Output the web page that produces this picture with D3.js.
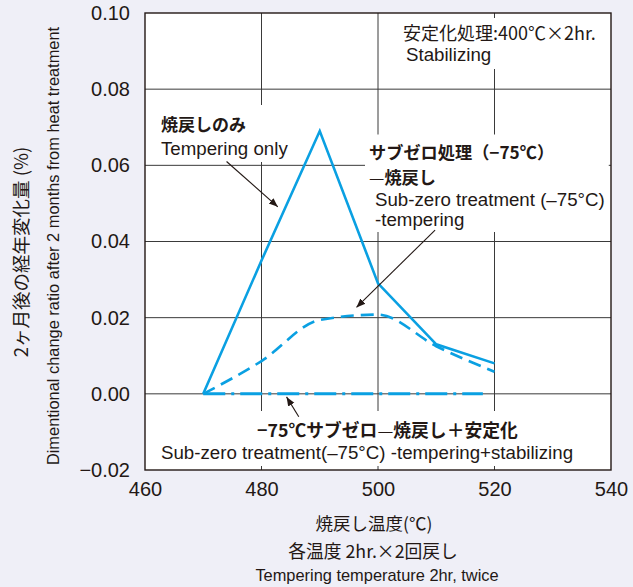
<!DOCTYPE html>
<html>
<head>
<meta charset="utf-8">
<script src="https://cdn.jsdelivr.net/npm/d3@7"></script>
<style>
  html, body { margin: 0; padding: 0; background: #efeff7; }
  svg { display: block; }
  text { font-family: "Liberation Sans", Arial, "Noto Sans CJK JP", sans-serif; fill: #231815; }
  .jp { font-family: "Noto Sans CJK JP", "Liberation Sans", sans-serif; }
</style>
</head>
<body>
<svg id="chart" width="633" height="587"></svg>
<script>
// Tempering temperatures (°C)
const temps = [470, 480, 490, 500, 510, 520];
// Dimensional change after 2 months (%)
const temperingOnly = [0.000, 0.035, 0.069, 0.029, 0.013, 0.008];
const subZeroTempering = [0.000, 0.0086, 0.0194, 0.0208, 0.0125, 0.0058];
const subZeroStabTemps = [470, 518];
const subZeroStabilized = [0.000, 0.000];

const xTicks = [460, 480, 500, 520, 540];
const yTicks = [-0.02, 0.00, 0.02, 0.04, 0.06, 0.08, 0.10];

const W = 633, H = 587;
const margin = { left: 145, right: 22, top: 13, bottom: 117 };

const svg = d3.select("#chart");
svg.append("rect").attr("width", W).attr("height", H).attr("fill", "#efeff7");

const x = d3.scaleLinear().domain([460, 540]).range([margin.left, W - margin.right]);
const y = d3.scaleLinear().domain([-0.02, 0.10]).range([H - margin.bottom, margin.top]);

const ink = "#231815";
const blue = "#0aa0e2";
const latin = '"Liberation Sans", Arial, sans-serif';

// plot background
svg.append("rect")
  .attr("x", x(460)).attr("y", y(0.10))
  .attr("width", x(540) - x(460)).attr("height", y(-0.02) - y(0.10))
  .attr("fill", "#fff");

// grid
const grid = svg.append("g").attr("stroke", "#3a3a3a").attr("stroke-width", 1);
grid.selectAll(".vg").data(xTicks.slice(1, -1)).join("line")
  .attr("x1", d => x(d)).attr("x2", d => x(d))
  .attr("y1", y(0.10)).attr("y2", y(-0.02));
grid.selectAll(".hg").data(yTicks.slice(1, -1)).join("line")
  .attr("x1", x(460)).attr("x2", x(540))
  .attr("y1", d => y(d)).attr("y2", d => y(d));

// axes (labels only)
const xAxis = d3.axisBottom(x).tickValues(xTicks).tickSize(0).tickPadding(12).tickFormat(d3.format("d"));
const gx = svg.append("g").attr("transform", `translate(0,${y(-0.02)})`).call(xAxis);
gx.select(".domain").remove();
gx.selectAll("text").attr("font-size", 20).attr("fill", ink).style("font-family", latin);

const fmtY = d => (d < 0 ? "\u2212" : "") + d3.format(".2f")(Math.abs(d));
const yAxis = d3.axisLeft(y).tickValues(yTicks).tickSize(0).tickPadding(15).tickFormat(fmtY);
const gy = svg.append("g").attr("transform", `translate(${x(460)},0)`).call(yAxis);
gy.select(".domain").remove();
gy.selectAll("text").attr("font-size", 20).attr("fill", ink).style("font-family", latin);

// series
const solidLine = d3.line().x((d, i) => x(temps[i])).y(d => y(d));
svg.append("path").datum(temperingOnly)
  .attr("d", solidLine).attr("fill", "none").attr("stroke", blue)
  .attr("stroke-width", 2.6).attr("stroke-linejoin", "miter");

const dashLine = d3.line().x((d, i) => x(temps[i])).y(d => y(d)).curve(d3.curveMonotoneX);
svg.append("path").datum(subZeroTempering)
  .attr("d", dashLine).attr("fill", "none").attr("stroke", blue)
  .attr("stroke-width", 2.6).attr("stroke-dasharray", "13,7");

const dashDotLine = d3.line().x((d, i) => x(subZeroStabTemps[i])).y(d => y(d));
svg.append("path").datum(subZeroStabilized)
  .attr("d", dashDotLine).attr("fill", "none").attr("stroke", blue)
  .attr("stroke-width", 3).attr("stroke-dasharray", "22,6,3,6");

// annotation labels on white boxes
function label(lines, pad) {
  const g = svg.append("g");
  const box = g.append("rect").attr("fill", "#fff");
  lines.forEach(l => {
    const t = g.append("text")
      .attr("class", l.jp ? "jp" : null)
      .attr("x", l.x).attr("y", l.y)
      .attr("text-anchor", l.anchor || "start")
      .attr("font-size", l.size)
      .attr("font-weight", l.bold ? "bold" : "normal");
    if (l.parts) {
      l.parts.forEach(p => t.append("tspan").attr("font-weight", p.w).text(p.t));
    } else {
      t.text(l.t);
    }
  });
  const bb = g.node().getBBox();
  box.attr("x", bb.x - pad[3]).attr("y", bb.y - pad[0])
    .attr("width", bb.width + pad[1] + pad[3])
    .attr("height", bb.height + pad[0] + pad[2]);
}

label([
  { t: "安定化処理:400℃×2hr.", x: 403, y: 40, size: 18, jp: true },
  { t: "Stabilizing", x: 406, y: 61, size: 18.7 }
], [1, 4, 4, 3]);

label([
  { t: "焼戻しのみ", x: 161, y: 131, size: 17, bold: true, jp: true },
  { t: "Tempering only", x: 161, y: 155, size: 18.7 }
], [6, 4, 3, 4]);

label([
  { t: "サブゼロ処理（−75℃）", x: 369, y: 158.5, size: 17.2, bold: true, jp: true },
  { parts: [{ t: "—", w: "normal" }, { t: "焼戻し", w: "bold" }], x: 369, y: 183.5, size: 17.2, jp: true },
  { t: "Sub-zero treatment (–75°C)", x: 375, y: 206, size: 18.7 },
  { t: "-tempering", x: 375, y: 226, size: 18.7 }
], [4, 4, 2, 4]);

label([
  { parts: [{ t: "−75℃サブゼロ", w: "bold" }, { t: "—", w: "normal" }, { t: "焼戻し＋安定化", w: "bold" }],
    x: 257, y: 437, size: 17.8, jp: true },
  { t: "Sub-zero treatment(–75°C) -tempering+stabilizing", x: 161, y: 459, size: 18.7 }
], [5, 8, 3, 8]);

// plot border
svg.append("rect")
  .attr("x", x(460)).attr("y", y(0.10))
  .attr("width", x(540) - x(460)).attr("height", y(-0.02) - y(0.10))
  .attr("fill", "none").attr("stroke", ink).attr("stroke-width", 1.4);

// leader arrows (data coordinates)
const defs = svg.append("defs");
defs.append("marker").attr("id", "ah")
  .attr("viewBox", "0 0 10 10").attr("refX", 10).attr("refY", 5)
  .attr("markerWidth", 9).attr("markerHeight", 9).attr("markerUnits", "userSpaceOnUse")
  .attr("orient", "auto")
  .append("path").attr("d", "M0,1 L10,5 L0,9 Z").attr("fill", ink);

const arrows = [
  { from: [474.0, 0.0610], to: [482.8, 0.0491] },
  { from: [509.8, 0.0430], to: [496.3, 0.0227] },
  { from: [486.4, -0.0060], to: [484.3, -0.0008] }
];
svg.selectAll(".arrow").data(arrows).join("line")
  .attr("x1", d => x(d.from[0])).attr("y1", d => y(d.from[1]))
  .attr("x2", d => x(d.to[0])).attr("y2", d => y(d.to[1]))
  .attr("stroke", ink).attr("stroke-width", 1.1)
  .attr("marker-end", "url(#ah)");

// axis titles
const cx = 374;
svg.append("text").attr("class", "jp").attr("x", cx).attr("y", 530)
  .attr("text-anchor", "middle").attr("font-size", 17.5).text("焼戻し温度(℃)");
svg.append("text").attr("class", "jp").attr("x", cx - 1).attr("y", 558)
  .attr("text-anchor", "middle").attr("font-size", 17.8).text("各温度 2hr.×2回戻し");
svg.append("text").attr("x", cx + 3).attr("y", 581)
  .attr("text-anchor", "middle").attr("font-size", 16.4).text("Tempering temperature 2hr, twice");

svg.append("text").attr("class", "jp")
  .attr("transform", `translate(28,252) rotate(-90)`)
  .attr("text-anchor", "middle").attr("font-size", 18.5).text("2ヶ月後の経年変化量 (%)");
svg.append("text")
  .attr("transform", `translate(59,246) rotate(-90)`)
  .attr("text-anchor", "middle").attr("font-size", 16.4)
  .text("Dimentional change ratio after 2 months from heat treatment");
</script>
</body>
</html>
